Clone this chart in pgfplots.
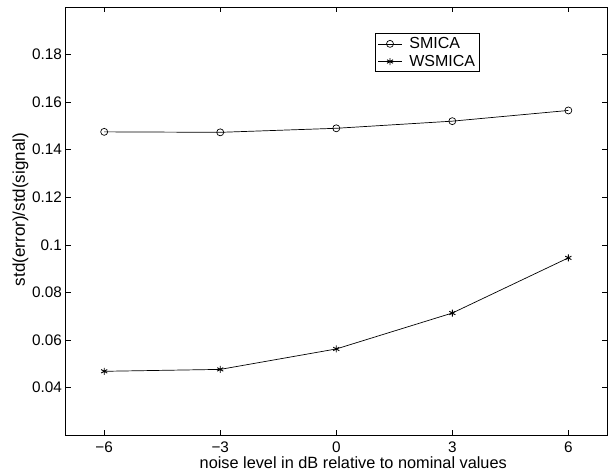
\documentclass[border=0pt]{standalone}
\usepackage{fontspec}
\setmainfont{Liberation Sans}
\usepackage{pgfplots}
\pgfplotsset{compat=1.18}
\begin{document}
\begin{tikzpicture}
\begin{axis}[
  scale only axis,
  width=541.5pt, height=428pt,
  xmin=-7, xmax=7, ymin=0.02, ymax=0.2,
  xtick={-6,-3,0,3,6},
  ytick={0.04,0.06,0.08,0.1,0.12,0.14,0.16,0.18},
  yticklabel style={/pgf/number format/.cd,fixed,precision=2},
  xticklabels={−6,−3,0,3,6},
  /pgf/number format/assume math mode=true,
  tick align=inside,
  major tick length=5pt,
  tick style={black, line width=0.6pt},
  axis line style={line width=0.8pt},
  font=\fontsize{16}{19}\selectfont,
  ticklabel style={font=\fontsize{15.3}{18}\selectfont},
  xticklabel style={anchor=base, yshift=-17.5pt, inner sep=0pt},
  xlabel={noise level in dB relative to nominal values},
  ylabel={std(error)/std(signal)},
  xlabel style={at={(rel axis cs:0.5,0)}, anchor=base, yshift=-33pt, xshift=17pt, inner sep=0pt,
     font=\fontsize{16.3}{19}\selectfont},
  ylabel style={yshift=-3pt, xshift=11.5pt, font=\fontsize{17}{19}\selectfont},
  legend style={at={(0.572,0.939)}, anchor=north west, draw=black, line width=0.8pt,
     font=\fontsize{16}{17}\selectfont, inner xsep=2pt, inner ysep=2pt, row sep=1pt},
  legend cell align=left,
  legend image code/.code={\draw[mark repeat=2,mark phase=2,#1] plot coordinates {(4pt,0pt)(16pt,0pt)(28pt,0pt)};\path (33pt,0pt);},
]
\addplot[black, line width=0.7pt, mark=o, mark size=3.5pt, mark options={line width=0.7pt}] coordinates {
 (-6,0.1475) (-3,0.1473) (0,0.1490) (3,0.1520) (6,0.1565)};
\addlegendentry{SMICA}
\addplot[black, line width=0.7pt, mark=asterisk, mark size=3.5pt, mark options={line width=0.9pt}] coordinates {
 (-6,0.0468) (-3,0.0476) (0,0.0562) (3,0.0713) (6,0.0945)};
\addlegendentry{WSMICA}
\coordinate (bl) at (rel axis cs:-0.121,-0.0911);
\coordinate (tr) at (rel axis cs:1.0092,1.0164);
\end{axis}
\pgfresetboundingbox
\path (bl) rectangle (tr);
\end{tikzpicture}
\end{document}
